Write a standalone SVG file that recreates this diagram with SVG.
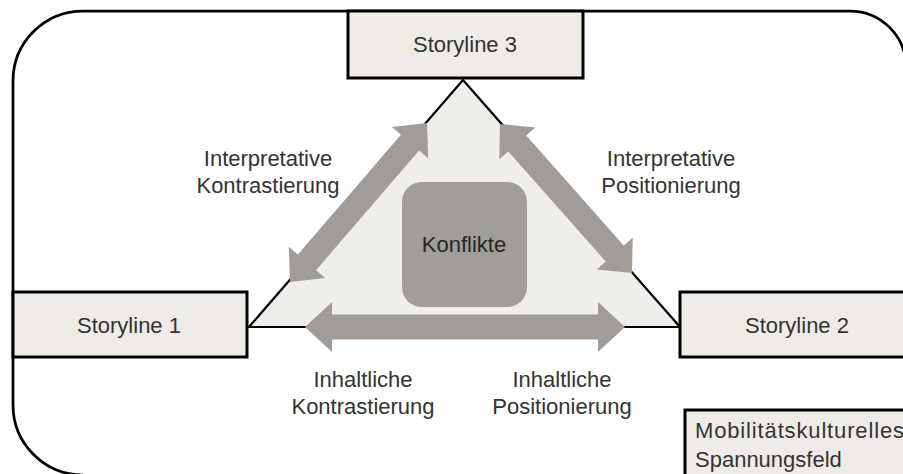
<svg xmlns="http://www.w3.org/2000/svg" width="903" height="474" viewBox="0 0 903 474">
<style>
.frame{fill:none;stroke:#000;stroke-width:2.75}
.box{fill:#EFECE8;stroke:#000;stroke-width:3}
.tri{fill:#F0EEEA;stroke:#000;stroke-width:2.2;stroke-linejoin:miter}
.arrow{fill:#A19C98;stroke:none}
.conf{fill:#A19D99}
text{font-family:"Liberation Sans",Arial,sans-serif;font-size:22px;fill:#333}
.c{text-anchor:middle}
</style>
<rect x="0" y="0" width="903" height="474" fill="#fff"/>
<g id="frame">
<path class="frame" d="M 83 475 A 70 70 0 0 1 13 405 L 13 81 A 70 70 0 0 1 83 11 L 850 11 A 56 56 0 0 1 906 67 L 906 480"/>
</g>
<g id="triangle">
<polygon class="tri" points="463,80 249,327 680,327"/>
</g>
<g id="connectors">
<polygon class="arrow" points="427,123 428.21,158.36 419.12,150.53 316.06,270.13 325.15,277.96 290,282 288.79,246.64 297.88,254.47 400.94,134.87 391.85,127.04"/>
<polygon class="arrow" points="500,124 535.20,127.55 526.22,135.50 623.74,245.58 632.72,237.63 632,273 596.80,269.45 605.78,261.50 508.26,151.42 499.28,159.37"/>
<polygon class="arrow" points="305,327 332,302 332,314.5 598,314.5 598,302 625,327 598,352 598,339.5 332,339.5 332,352"/>
</g>
<g id="konflikte">
<rect class="conf" x="402" y="182" width="125" height="125" rx="20" ry="20"/>
<text class="c" x="464" y="252" style="fill:#262626">Konflikte</text>
</g>
<g id="storyline3">
<rect class="box" x="348" y="11" width="235" height="67"/>
<text class="c" x="465" y="52">Storyline 3</text>
</g>
<g id="storyline1">
<rect class="box" x="13" y="292" width="234" height="65"/>
<text class="c" x="129" y="333">Storyline 1</text>
</g>
<g id="storyline2">
<rect class="box" x="680" y="292" width="240" height="65"/>
<text class="c" x="797" y="333">Storyline 2</text>
</g>
<g id="spannungsfeld">
<rect class="box" x="685" y="410" width="240" height="80"/>
<text x="695" y="438" textLength="209" lengthAdjust="spacing">Mobilitätskulturelles</text>
<text x="695" y="467">Spannungsfeld</text>
</g>
<g id="labels">
<text class="c" x="268" y="166">Interpretative</text>
<text class="c" x="268" y="193">Kontrastierung</text>
<text class="c" x="671" y="166">Interpretative</text>
<text class="c" x="671" y="193">Positionierung</text>
<text class="c" x="363" y="387">Inhaltliche</text>
<text class="c" x="363" y="414">Kontrastierung</text>
<text class="c" x="562" y="387">Inhaltliche</text>
<text class="c" x="562" y="414">Positionierung</text>
</g>
</svg>
